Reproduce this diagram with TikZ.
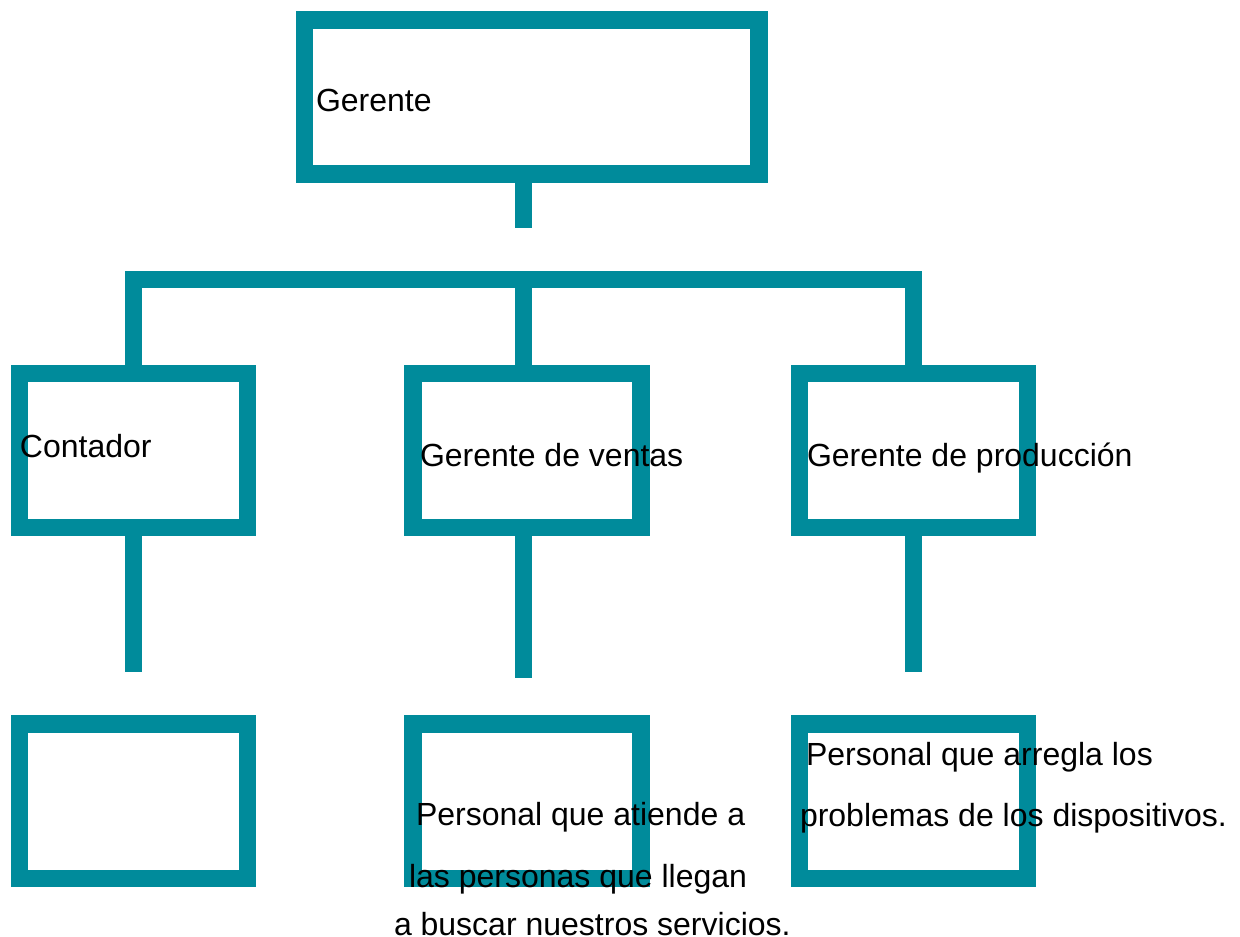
\documentclass[tikz,border=0pt]{standalone}
\usepackage{fontspec}
\setmainfont{Liberation Sans}
\definecolor{teal1}{RGB}{0,139,155}
\begin{document}
\begin{tikzpicture}[x=0.75pt,y=-0.75pt,
  orgbox/.style={draw=teal1,line width=13.1pt,rectangle,inner sep=0pt,minimum width=171pt,minimum height=115.6pt},
  topbox/.style={orgbox,minimum width=340.9pt,minimum height=115.8pt},
  link/.style={draw=teal1,line width=13.1pt,line cap=butt,line join=miter},
  lbl/.style={anchor=base west,inner sep=0pt,outer sep=0pt,font=\fontsize{24}{28}\selectfont,text=black}]
\useasboundingbox (0,0) rectangle (1240,937);
% boxes
\node[topbox] (ger) at (531.7,97) {};
\node[orgbox] (cont) at (133.5,450.5) {};
\node[orgbox] (ven) at (527,450.5) {};
\node[orgbox] (prod) at (913.5,450.5) {};
\node[orgbox] (b1) at (133.5,801.3) {};
\node[orgbox] (b2) at (527,801.3) {};
\node[orgbox] (b3) at (913.5,801.3) {};
% coordinates
\coordinate (gend) at (523.5,228);
\coordinate (bar) at (523.5,279.5);
\coordinate (e1) at (133.5,672);
\coordinate (e2) at (523.5,678);
\coordinate (e3) at (913.5,672);
% connectors
\draw[link] (ger.south -| gend) -- (gend);
\draw[link] (cont.north) -- (cont.north |- bar) -- (prod.north |- bar) -- (prod.north);
\draw[link] (bar) -- (ven.north -| bar);
\draw[link] (cont.south) -- (e1);
\draw[link] (ven.south -| e2) -- (e2);
\draw[link] (prod.south) -- (e3);
% labels
\node[lbl] (tger) at (316,112) {Gerente};
\node[lbl] (tcont) at (20,457.5) {Contador};
\node[lbl] (tven) at (420,466.5) {Gerente de ventas};
\node[lbl] (tprod) at (807,466.5) {Gerente de producción};
\node[lbl] (t21) at (416,825.5) {Personal que atiende a};
\node[lbl] (t22) at (409,887) {las personas que llegan};
\node[lbl] (t23) at (394,935.5) {a buscar nuestros servicios.};
\node[lbl] (t31) at (806,765.5) {Personal que arregla los};
\node[lbl] (t32) at (800,826.5) {problemas de los dispositivos.};
\end{tikzpicture}
\end{document}
